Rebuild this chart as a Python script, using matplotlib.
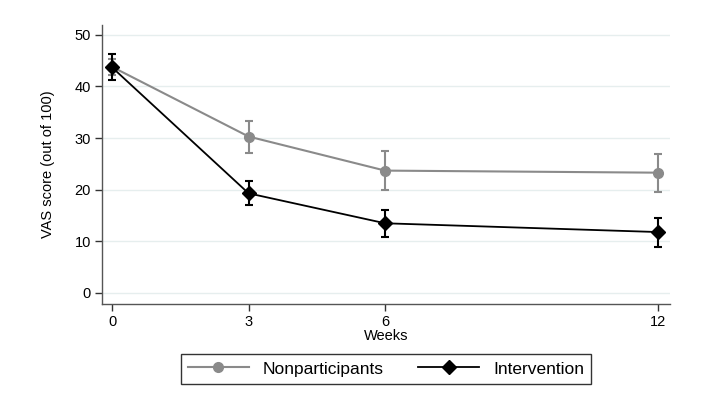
import numpy as np
import matplotlib
matplotlib.use("Agg")
import matplotlib.pyplot as plt

plt.rcParams['font.family'] = ['Liberation Sans', 'DejaVu Sans']

weeks = [0, 3, 6, 12]

non_mean = [43.8, 30.3, 23.7, 23.3]
non_lo = [42.2, 27.2, 20.0, 19.6]
non_hi = [45.4, 33.4, 27.5, 27.0]

int_mean = [43.7, 19.3, 13.5, 11.8]
int_lo = [41.2, 17.0, 10.9, 9.0]
int_hi = [46.2, 21.7, 16.1, 14.5]

gray = '#8a8a8a'

fig = plt.figure(figsize=(7.1, 4.07), dpi=100)
ax = fig.add_axes([0.1437, 0.2531, 0.8, 0.6855])

def yerr(m, lo, hi):
    m = np.asarray(m)
    return np.vstack((m - np.asarray(lo), np.asarray(hi) - m))

ax.errorbar(weeks, non_mean, yerr=yerr(non_mean, non_lo, non_hi), color=gray,
            marker='o', ms=7, lw=1.5, capsize=3, capthick=1.5, elinewidth=1.5,
            label='Nonparticipants', zorder=3)
ax.errorbar(weeks, int_mean, yerr=yerr(int_mean, int_lo, int_hi), color='black',
            marker='D', ms=7.5, lw=1.3, capsize=3, capthick=1.5, elinewidth=1.5,
            label='Intervention', zorder=4)

ax.set_xlim(-0.22, 12.26)
ax.set_ylim(-2.13, 51.9)
ax.set_xticks(weeks)
ax.set_yticks([0, 10, 20, 30, 40, 50])
ax.tick_params(labelsize=10.5, length=5, width=1, colors='#333333',
               labelcolor='black', pad=3)
ax.yaxis.grid(True, color='#e6eeee', lw=1)
ax.set_axisbelow(True)
for s in ['top', 'right']:
    ax.spines[s].set_visible(False)
for s in ['left', 'bottom']:
    ax.spines[s].set_color('#555555')
    ax.spines[s].set_linewidth(1)

ax.set_xlabel('Weeks', fontsize=10.5, labelpad=0)
ax.set_ylabel('VAS score (out of 100)', fontsize=10.5, labelpad=14)

handles, labels = ax.get_legend_handles_labels()
handles = [h[0] for h in handles]
leg = fig.legend(handles, labels, loc='center', bbox_to_anchor=(0.5437, 0.0934),
                 ncol=2, fontsize=12.5, frameon=True, fancybox=False,
                 edgecolor='black', handlelength=3.5, columnspacing=2.0,
                 borderpad=0.4)
leg.get_frame().set_linewidth(1)

fig.savefig('out.png', dpi=100)
